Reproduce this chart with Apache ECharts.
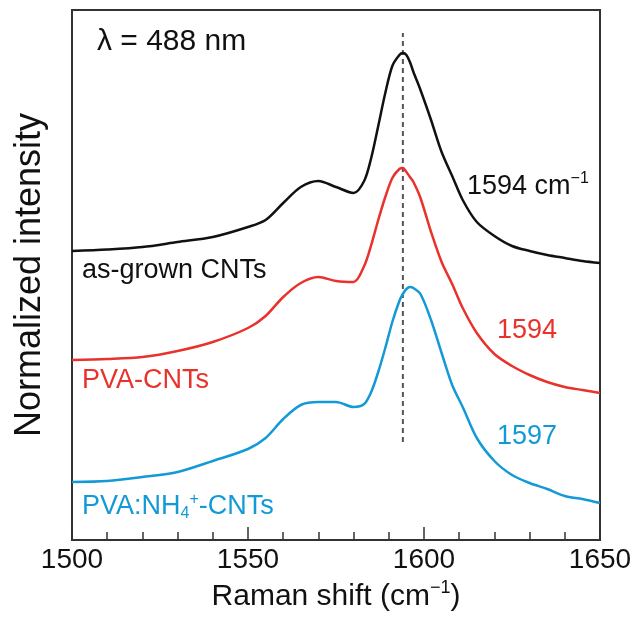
<!DOCTYPE html>
<html>
<head>
<meta charset="utf-8">
<script src="https://cdn.jsdelivr.net/npm/echarts@6/dist/echarts.min.js"></script>
<style>
html,body{margin:0;padding:0;background:#fff;}
#c{width:635px;height:637px;}
</style>
</head>
<body>
<div id="c"></div>
<script>
// Raman shift (cm^-1)
const shifts = [1500,1510,1520,1530,1540,1550,1555,1560,1565,1570,1575,1580,1583,1585,1587,1589,1591,1593,1594,1595,1596,1597,1599,1602,1605,1608,1611,1615,1620,1625,1630,1635,1640,1645,1650];
// normalized intensity (stacked with offsets, arbitrary units)
const asGrown = [2.89,2.905,2.93,2.98,3.03,3.13,3.20,3.37,3.53,3.59,3.53,3.47,3.59,3.82,4.14,4.47,4.74,4.85,4.87,4.85,4.78,4.68,4.50,4.20,3.88,3.64,3.40,3.18,3.04,2.94,2.89,2.85,2.82,2.79,2.77];
const pvaCNT  = [1.80,1.81,1.83,1.89,1.98,2.12,2.24,2.43,2.57,2.63,2.59,2.58,2.74,2.95,3.20,3.43,3.62,3.71,3.72,3.68,3.63,3.58,3.42,3.08,2.78,2.56,2.32,2.07,1.86,1.74,1.65,1.58,1.53,1.50,1.47];
const pvaNH4  = [0.58,0.59,0.63,0.68,0.79,0.91,1.02,1.21,1.35,1.38,1.38,1.33,1.36,1.48,1.68,1.92,2.18,2.39,2.46,2.51,2.53,2.52,2.46,2.20,1.87,1.55,1.33,1.02,0.79,0.65,0.57,0.51,0.44,0.41,0.37];
const xTicks = [1500,1550,1600,1650];
const dashX = 1594;
const dashY = [0.98, 5.07];

const zip = (ys) => shifts.map((x,i)=>[x, ys[i]]);
const BLACK = '#111111', RED = '#e8322b', BLUE = '#139ad6';
const FONT = 'Liberation Sans, Arial, sans-serif';

const chart = echarts.init(document.getElementById('c'), null, {renderer:'canvas'});
chart.setOption({
  backgroundColor:'#ffffff',
  animation:false,
  grid:{left:72, top:10, right:35, bottom:97, show:true, borderColor:'#333', borderWidth:2, backgroundColor:'transparent'},
  xAxis:{
    type:'value', min:1500, max:1650, interval:50,
    axisLine:{show:true, lineStyle:{color:'#333', width:2}},
    axisTick:{show:true, inside:true, length:13, lineStyle:{color:'#333', width:1.5}},
    minorTick:{show:true, splitNumber:5, length:8, lineStyle:{color:'#333', width:1.5}},
    splitLine:{show:false},
    axisLabel:{color:'#111', fontSize:28, fontFamily:FONT, margin:6,
      formatter:(v)=> xTicks.includes(v) ? String(v) : ''},
    name:'{a|Raman shift (cm}{s|−1}{a|)}',
    nameLocation:'middle', nameGap:38,
    nameTextStyle:{rich:{
      a:{fontSize:30, fontFamily:FONT, color:'#111', lineHeight:36},
      s:{fontSize:18, fontFamily:FONT, color:'#111', verticalAlign:'top', lineHeight:36, padding:[0,0,15,0]}
    }}
  },
  yAxis:{
    type:'value', min:0, max:5.3,
    axisLine:{show:true, lineStyle:{color:'#333', width:2}},
    axisTick:{show:false}, axisLabel:{show:false}, splitLine:{show:false},
    name:'Normalized intensity', nameLocation:'middle', nameGap:24,
    nameTextStyle:{fontSize:36, fontFamily:FONT, color:'#111'}
  },
  series:[
    {type:'line', data:zip(asGrown), smooth:0.3, showSymbol:false, lineStyle:{color:BLACK, width:2.5}, z:3},
    {type:'line', data:zip(pvaCNT), smooth:0.3, showSymbol:false, lineStyle:{color:RED, width:2.5}, z:3},
    {type:'line', data:zip(pvaNH4), smooth:0.3, showSymbol:false, lineStyle:{color:BLUE, width:2.5}, z:3},
    {type:'line', data:[[dashX,dashY[0]],[dashX,dashY[1]]], showSymbol:false,
      lineStyle:{color:'#555', width:2, type:[5,4]}, z:2}
  ],
  graphic:[
    {type:'text', left:97, top:27, style:{text:'λ = 488 nm', fontSize:30, fontFamily:FONT, fill:'#111'}},
    {type:'text', left:467, top:171, style:{text:'{a|1594 cm}{s|−1}', rich:{
      a:{fontSize:27, fontFamily:FONT, fill:'#111', lineHeight:32},
      s:{fontSize:16, fontFamily:FONT, fill:'#111', verticalAlign:'top', lineHeight:32, padding:[0,0,13,0]}}}},
    {type:'text', left:82, top:257, style:{text:'as-grown CNTs', fontSize:27, fontFamily:FONT, fill:'#111'}},
    {type:'text', left:497, top:317, style:{text:'1594', fontSize:27, fontFamily:FONT, fill:RED}},
    {type:'text', left:82, top:367, style:{text:'PVA-CNTs', fontSize:27, fontFamily:FONT, fill:RED}},
    {type:'text', left:497, top:423, style:{text:'1597', fontSize:27, fontFamily:FONT, fill:BLUE}},
    {type:'text', left:82, top:491, style:{text:'{a|PVA:NH}{sub|4}{sup|+}{a|-CNTs}', rich:{
      a:{fontSize:27, fontFamily:FONT, fill:BLUE, lineHeight:32},
      sub:{fontSize:16, fontFamily:FONT, fill:BLUE, lineHeight:32, padding:[15,0,0,0]},
      sup:{fontSize:16, fontFamily:FONT, fill:BLUE, lineHeight:32, padding:[0,0,13,0]}}}}
  ]
});
</script>
</body>
</html>
